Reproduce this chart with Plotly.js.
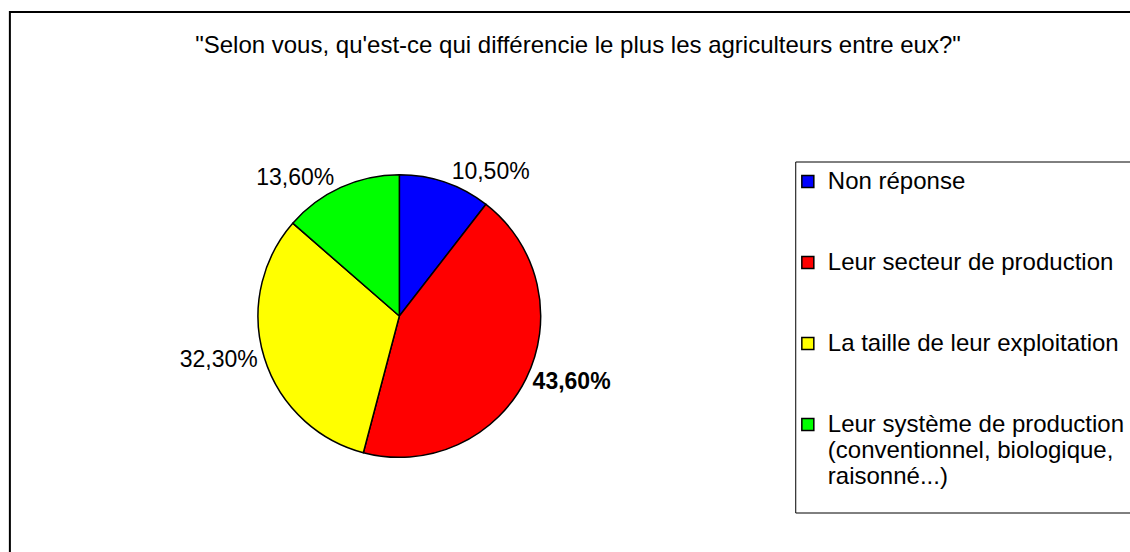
<!DOCTYPE html>
<html>
<head>
<meta charset="utf-8">
<script src="https://cdn.plot.ly/plotly-3.0.1.min.js"></script>
<style>html,body{margin:0;padding:0;background:#fff;}#chart{width:1130px;height:552px;}</style>
</head>
<body>
<div id="chart"></div>
<script>
const chartTitle = '"Selon vous, qu\'est-ce qui différencie le plus les agriculteurs entre eux?"';
const categories = [
  'Non réponse',
  'Leur secteur de production',
  'La taille de leur exploitation',
  'Leur système de production<br>(conventionnel, biologique,<br>raisonné...)'
];
const values = [10.5, 43.6, 32.3, 13.6];
const sliceColors = ['#0000FF', '#FF0000', '#FFFF00', '#00FF00'];
const boldLabel = [false, true, false, false];

const W = 1130, H = 552;
const FONT = 'Liberation Sans, Arial, sans-serif';

// legend text: pad shorter entries with blank lines so entries are spread out like the original
const legendLabels = categories.map(c => {
  const lines = c.split('<br>');
  while (lines.length < 3) lines.push('&nbsp;');
  return lines.map(l => '<span style="font-size:24px">' + l + '</span>').join('<br>');
});

const trace = {
  type: 'pie',
  labels: legendLabels,
  values: values,
  sort: false,
  direction: 'clockwise',
  rotation: 0,
  marker: {colors: sliceColors, line: {color: '#000', width: 1.5}},
  textposition: 'outside',
  texttemplate: boldLabel.map(b => b ? '<b>%{value:.2f}%</b>' : '%{value:.2f}%'),
  outsidetextfont: {family: FONT, size: 23, color: '#000'},
  domain: {x: [(404 - 143) / W, (404 + 143) / W], y: [(H - 316 - 143) / H, (H - 316 + 143) / H]},
  hoverinfo: 'label+percent',
  automargin: false,
  showlegend: true
};

const layout = {
  width: W, height: H,
  margin: {l: 0, r: 0, t: 0, b: 0},
  paper_bgcolor: '#fff',
  separators: ', ',
  font: {family: FONT, color: '#000'},
  title: {
    text: chartTitle,
    font: {family: FONT, size: 24, color: '#000'},
    x: 578 / W, xanchor: 'center',
    y: 1 - 45 / H, yanchor: 'middle', yref: 'container'
  },
  legend: {
    x: 797 / W, xanchor: 'left',
    y: 1 - 162 / H, yanchor: 'top',
    font: {family: FONT, size: 20, color: '#000'},
    valign: 'top',
    borderwidth: 0,
    bgcolor: 'rgba(0,0,0,0)',
    itemclick: false
  },
  shapes: [
    {type: 'rect', xref: 'paper', yref: 'paper', x0: 10 / W, x1: 1.2, y0: -0.2, y1: 1 - 12 / H,
     line: {color: '#000', width: 2}, fillcolor: 'rgba(0,0,0,0)', layer: 'below'},
    {type: 'rect', xref: 'paper', yref: 'paper', x0: 805 / W, x1: 1.2, y0: 1 - 513 / H, y1: 1 - 162 / H,
     line: {color: '#000', width: 1}, fillcolor: '#fff', layer: 'below'}
  ]
};

Plotly.newPlot('chart', [trace], layout, {displayModeBar: false, staticPlot: true});
</script>
</body>
</html>
